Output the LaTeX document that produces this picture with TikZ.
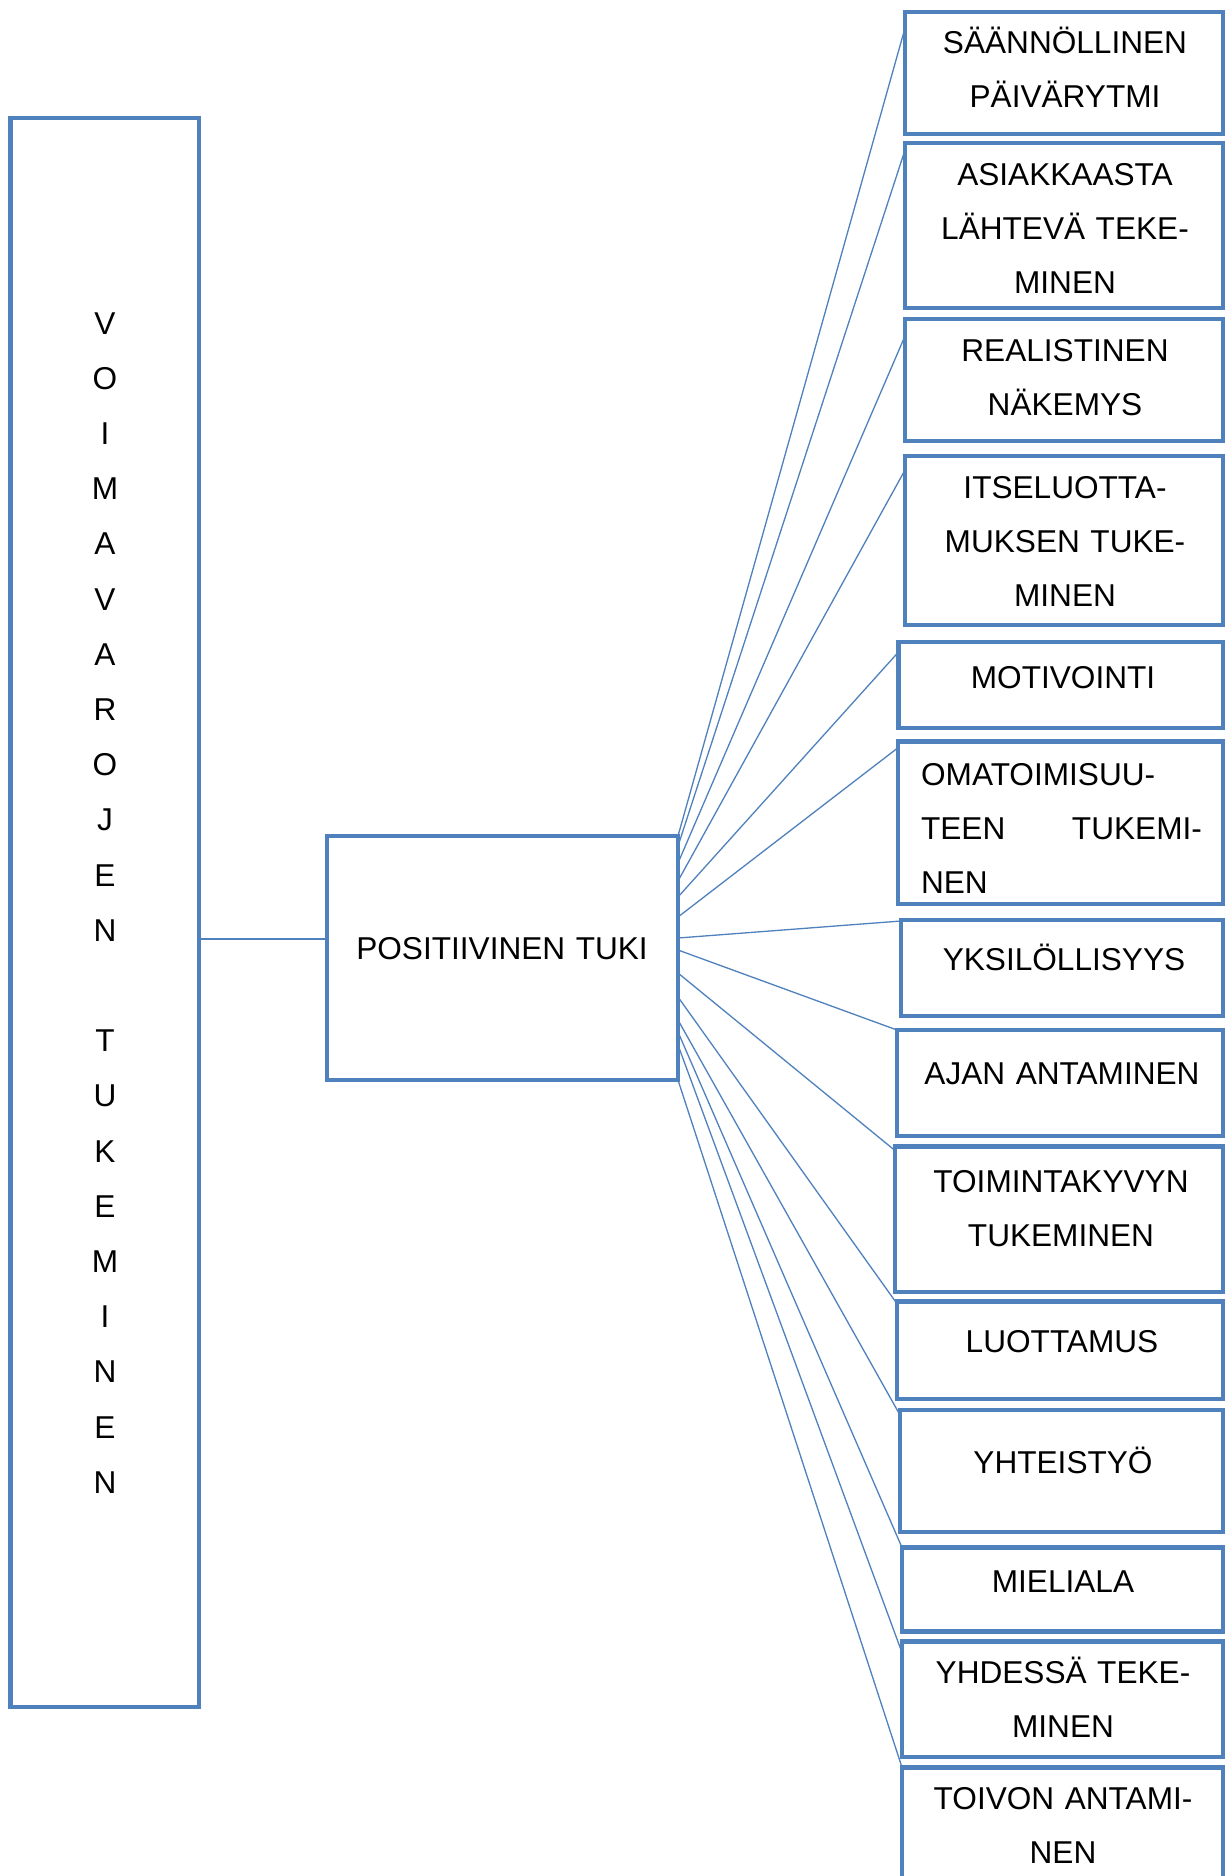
\documentclass[tikz,border=0pt]{standalone}
\usepackage{fontspec}
\setmainfont{Liberation Sans}
\usetikzlibrary{calc}
\definecolor{boxblue}{HTML}{4F81BD}
\begin{document}
\begin{tikzpicture}[x=0.5pt,y=-0.5pt,
  box/.style={draw=boxblue, line width=2.3pt, rectangle, inner sep=0pt, outer sep=0pt, anchor=north west},
  lbl/.style={inner sep=0pt, anchor=base, align=center, text width=152pt, font=\fontsize{15.8}{27}\selectfont},
  link/.style={draw=boxblue, line width=0.65pt}]
\useasboundingbox (0,0) rectangle (1232,1876);
\fill[white] (0,0) rectangle (1232,1876);
\clip (0,0) rectangle (1232,1876);

% main column and central box
\node[box, minimum width=94.25pt, minimum height=794.5pt] (left) at (10.5,118) {};
\node[box, minimum width=175.5pt, minimum height=122pt] (pos) at (327,836) {};

% branch boxes
\node[box, minimum width=159pt,   minimum height=61pt]    (b1)  at (905,12) {};
\node[box, minimum width=159pt,   minimum height=82.5pt]  (b2)  at (905,143) {};
\node[box, minimum width=159pt,   minimum height=61pt]    (b3)  at (905,319) {};
\node[box, minimum width=159pt,   minimum height=84.5pt]  (b4)  at (905,456) {};
\node[box, minimum width=162.25pt,minimum height=43pt]    (b5)  at (898.5,642) {};
\node[box, minimum width=162.5pt, minimum height=81.15pt] (b6)  at (898,741.7) {};
\node[box, minimum width=161pt,   minimum height=48pt]    (b7)  at (901,920) {};
\node[box, minimum width=163pt,   minimum height=53pt]    (b8)  at (897,1030) {};
\node[box, minimum width=164pt,   minimum height=72.75pt] (b9)  at (895,1146.5) {};
\node[box, minimum width=163pt,   minimum height=48.65pt] (b10) at (897,1301.7) {};
\node[box, minimum width=161.5pt, minimum height=61pt]    (b11) at (900,1410) {};
\node[box, minimum width=160.5pt, minimum height=42pt]    (b12) at (902,1547.5) {};
\node[box, minimum width=160.5pt, minimum height=57.7pt]  (b13) at (902,1641.6) {};
\node[box, minimum width=160.5pt, minimum height=70pt]    (b14) at (902,1767.4) {};

% texts (anchored at the baseline of their first line)
\node[lbl, text width=30pt, font=\fontsize{15.8}{27.6}\selectfont] (tleft) at (105,334)
  {V\\O\\I\\M\\A\\V\\A\\R\\O\\J\\E\\N\\\mbox{}\\T\\U\\K\\E\\M\\I\\N\\E\\N};
\node[lbl, text width=170pt] (tpos) at (502,959) {POSITIIVINEN TUKI};
\node[lbl] (t1)  at (1065,53)   {SÄÄNNÖLLINEN\\PÄIVÄRYTMI};
\node[lbl] (t2)  at (1065,185)  {ASIAKKAASTA\\LÄHTEVÄ TEKE-\\MINEN};
\node[lbl] (t3)  at (1065,361)  {REALISTINEN\\NÄKEMYS};
\node[lbl] (t4)  at (1065,498)  {ITSELUOTTA-\\MUKSEN TUKE-\\MINEN};
\node[lbl] (t5)  at (1063,688)  {MOTIVOINTI};
\node[lbl, anchor=base west, align=left, text width=140.4pt] (t6) at (920.7,785)
  {OMATOIMISUU-\\TEEN\hfill TUKEMI-\\NEN};
\node[lbl] (t7)  at (1064,970)  {YKSILÖLLISYYS};
\node[lbl] (t8)  at (1062,1084) {AJAN ANTAMINEN};
\node[lbl] (t9)  at (1061,1192) {TOIMINTAKYVYN\\TUKEMINEN};
\node[lbl] (t10) at (1062,1352) {LUOTTAMUS};
\node[lbl] (t11) at (1063,1473) {YHTEISTYÖ};
\node[lbl] (t12) at (1063,1592) {MIELIALA};
\node[lbl] (t13) at (1063,1683) {YHDESSÄ TEKE-\\MINEN};
\node[lbl] (t14) at (1063,1809) {TOIVON ANTAMI-\\NEN};

% connectors
\coordinate (joint) at (0,939);
\draw[link] (left.east |- joint) -- (pos.west |- joint);

\draw[link] ($(pos.north east)+(0,0)$)   -- ($(b1.north west)+(0,16)$);
\draw[link] ($(pos.north east)+(0,10)$)  -- ($(b2.north west)+(0,7)$);
\draw[link] ($(pos.north east)+(0,27)$)  -- ($(b3.north west)+(0,17)$);
\draw[link] ($(pos.north east)+(0,45)$)  -- ($(b4.north west)+(0,14)$);
\draw[link] ($(pos.north east)+(0,61)$)  -- ($(b5.north west)+(0,10)$);
\draw[link] ($(pos.north east)+(0,81)$)  -- ($(b6.north west)+(0,6)$);
\draw[link] ($(pos.north east)+(0,102)$) -- ($(b7.north west)+(0,1)$);
\draw[link] ($(pos.north east)+(0,114)$) -- ($(b8.north west)+(0,0)$);
\draw[link] ($(pos.north east)+(0,137)$) -- ($(b9.north west)+(0,4)$);
\draw[link] ($(pos.north east)+(0,161)$) -- ($(b10.north west)+(0,2)$);
\draw[link] ($(pos.north east)+(0,184)$) -- ($(b11.north west)+(0,5)$);
\draw[link] ($(pos.north east)+(0,196)$) -- ($(b12.north west)+(0,0)$);
\draw[link] ($(pos.north east)+(0,209)$) -- ($(b13.north west)+(0,11)$);
\draw[link] (pos.south east)             -- ($(b14.north west)+(0,0)$);
\end{tikzpicture}
\end{document}
